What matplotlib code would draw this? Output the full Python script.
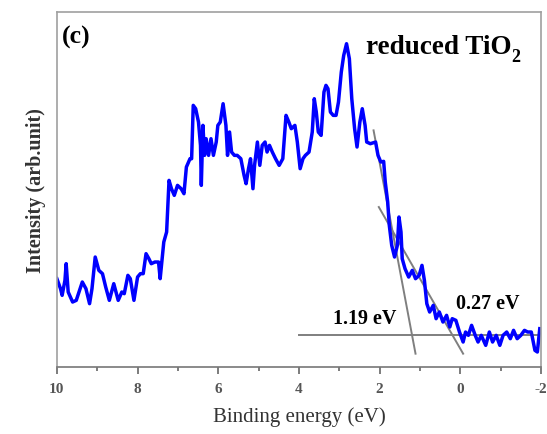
import matplotlib
matplotlib.use('Agg')
from matplotlib import pyplot as plt
from matplotlib.ticker import MultipleLocator

# valence band spectrum, binding energy (eV) vs intensity (arb. units)
energy = [10.00, 9.91, 9.87, 9.80, 9.77, 9.72, 9.61, 9.52, 9.37, 9.28, 9.19, 9.13,
          9.05, 8.96, 8.87, 8.79, 8.70, 8.59, 8.48, 8.39, 8.33, 8.24, 8.18, 8.09,
          8.00, 7.93, 7.86, 7.79, 7.72, 7.66, 7.57, 7.48, 7.44, 7.35, 7.28, 7.22,
          7.16, 7.09, 7.01, 6.92, 6.85, 6.79, 6.70, 6.66, 6.62, 6.56, 6.49, 6.44,
          6.42, 6.38, 6.34, 6.30, 6.24, 6.18, 6.12, 6.05, 6.01, 5.95, 5.88, 5.81,
          5.77, 5.72, 5.67, 5.60, 5.53, 5.44, 5.36, 5.31, 5.25, 5.20, 5.14, 5.10,
          5.03, 4.97, 4.91, 4.84, 4.79, 4.73, 4.66, 4.58, 4.49, 4.40, 4.32, 4.25,
          4.19, 4.10, 4.04, 3.97, 3.90, 3.84, 3.75, 3.67, 3.62, 3.57, 3.52, 3.45,
          3.38, 3.33, 3.28, 3.22, 3.15, 3.08, 3.02, 2.95, 2.89, 2.82, 2.75, 2.69,
          2.62, 2.56, 2.49, 2.43, 2.36, 2.32, 2.23, 2.10, 2.04, 1.97, 1.90, 1.86,
          1.80, 1.76, 1.70, 1.63, 1.56, 1.52, 1.47, 1.44, 1.37, 1.28, 1.19, 1.11,
          1.02, 0.95, 0.89, 0.83, 0.76, 0.67, 0.60, 0.52, 0.43, 0.34, 0.26, 0.20,
          0.11, 0.02, -0.07, -0.13, -0.20, -0.28, -0.37, -0.44, -0.52, -0.63, -0.72,
          -0.80, -0.89, -0.98, -1.06, -1.15, -1.24, -1.32, -1.41, -1.50, -1.59,
          -1.67, -1.76, -1.85, -1.91, -1.97]
intensity = [265, 235, 215, 260, 310, 225, 195, 200, 255, 235, 190, 235,
             330, 290, 280, 240, 200, 250, 200, 225, 220, 275, 265, 200,
             270, 280, 280, 340, 325, 310, 315, 315, 265, 375, 405, 560,
             535, 515, 545, 535, 520, 600, 625, 625, 785, 775, 735, 665,
             545, 725, 635, 685, 635, 685, 635, 675, 725, 735, 790, 725,
             635, 705, 645, 635, 635, 625, 575, 550, 595, 625, 535, 605,
             675, 605, 665, 675, 645, 665, 645, 625, 605, 625, 755, 735,
             715, 725, 675, 595, 625, 635, 645, 705, 805, 765, 705, 695,
             825, 845, 835, 765, 755, 755, 795, 885, 935, 970, 925, 805,
             715, 660, 735, 775, 725, 675, 670, 675, 635, 615, 617, 555,
             495, 425, 365, 330, 365, 450, 405, 325, 295, 270, 290, 265,
             275, 305, 260, 190, 165, 185, 145, 165, 135, 155, 120, 145,
             140, 105, 75, 105, 95, 125, 95, 75, 95, 65, 105,
             75, 95, 65, 95, 105, 85, 110, 85, 95, 110,
             105, 105, 50, 45, 115]

# linear extrapolations (x endpoints, y endpoints)
base_x = [4.01, -1.89]
base_y = [97, 97]
fit1_x = [2.15, 1.11]
fit1_y = [710, 40]
fit2_x = [2.02, -0.07]
fit2_y = [480, 40]

serif = ['Liberation Serif', 'DejaVu Serif']

fig = plt.figure(figsize=(5.47, 4.35), dpi=100)
ax = fig.add_axes([0.104, 0.154, 0.885, 0.816])

ax.plot(base_x, base_y, color='#7f7f7f', lw=1.4)
ax.plot(fit1_x, fit1_y, color='#7f7f7f', lw=1.4)
ax.plot(fit2_x, fit2_y, color='#7f7f7f', lw=1.4)
ax.plot(energy, intensity, color='#0000ff', lw=2.5, solid_joinstyle='round')

ax.set_xlim(10, -2)
ax.set_ylim(0, 1065)
ax.xaxis.set_minor_locator(MultipleLocator(1))
ax.set_xticks([10, 8, 6, 4, 2, 0, -2])
ax.set_xticklabels(['10', '8', '6', '4', '2', '0', '-2'])
ax.set_yticks([])
ax.tick_params(axis='x', which='both', direction='out', color='#666666',
               labelcolor='#555555', labelsize=11, pad=6)
ax.tick_params(axis='x', which='major', length=5, width=1.2)
ax.tick_params(axis='x', which='minor', length=3, width=1.2)
for lab in ax.get_xticklabels():
    lab.set_family(serif)
    lab.set_fontweight('bold')
for s in ax.spines.values():
    s.set_color('#a0a0a0')
    s.set_linewidth(1.2)
ax.spines['bottom'].set_color('#777777')

ax.set_xlabel('Binding energy (eV)', family=serif, fontsize=15, color='#333333',
              labelpad=8)
ax.set_ylabel('Intensity (arb.unit)', family=serif, fontsize=14.5, fontweight='bold',
              color='#333333', labelpad=8)

ax.text(0.011, 0.965, '(c)', transform=ax.transAxes, ha='left', va='top',
        family=serif, fontsize=18.5, fontweight='bold')
ax.text(0.639, 0.885, 'reduced TiO', transform=ax.transAxes,
        ha='left', va='baseline', family=serif, fontsize=19.5, fontweight='bold')
ax.text(0.939, 0.862, '2', transform=ax.transAxes,
        ha='left', va='baseline', family=serif, fontsize=13, fontweight='bold')
ax.text(3.15, 118, '1.19 eV', ha='left', va='bottom', family=serif, fontsize=14.5,
        fontweight='bold')
ax.text(0.11, 163, '0.27 eV', ha='left', va='bottom', family=serif, fontsize=14.5,
        fontweight='bold')

fig.savefig('out.png', dpi=100)
